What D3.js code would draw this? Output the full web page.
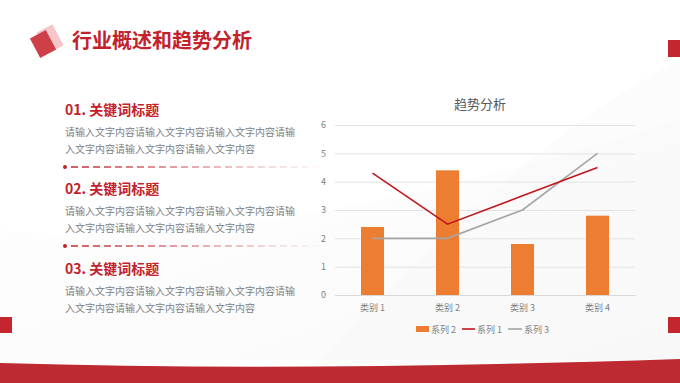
<!DOCTYPE html>
<html><head><meta charset="utf-8">
<script src="https://cdn.jsdelivr.net/npm/d3@7"></script>
<style>
html,body{margin:0;padding:0;background:#fff;}
svg{display:block;font-family:"Noto Sans CJK SC","Noto Sans",sans-serif;}
</style></head>
<body>
<svg id="c" width="680" height="383"></svg>
<script>
const categories = ["类别 1","类别 2","类别 3","类别 4"];
const series2 = [2.4, 4.4, 1.8, 2.8];
const series1 = [4.3, 2.5, 3.5, 4.5];
const series3 = [2, 2, 3, 5];
const yTicks = [0,1,2,3,4,5,6];
const legendItems = ["系列 2","系列 1","系列 3"];
const pageTitle = "行业概述和趋势分析";
const chartTitle = "趋势分析";
const headings = ["01. 关键词标题","02. 关键词标题","03. 关键词标题"];
const bodyLines = ["请输入文字内容请输入文字内容请输入文字内容请输","入文字内容请输入文字内容请输入文字内容"];

const RED = "#c3212b";
const svg = d3.select("#c");
const defs = svg.append("defs");

// background subtle swooshes
const bg = defs.append("linearGradient").attr("id","bgg").attr("x1","0").attr("y1","0").attr("x2","1").attr("y2","1");
bg.append("stop").attr("offset","0").attr("stop-color","#ffffff");
bg.append("stop").attr("offset","1").attr("stop-color","#f3f3f3");
svg.append("rect").attr("width",680).attr("height",383).attr("fill","#fff");
svg.append("path").attr("d","M0,230 C200,250 420,200 680,120 L680,360 L0,360 Z").attr("fill","url(#bgg)").attr("opacity",0.5);
svg.append("path").attr("d","M300,383 C420,250 560,120 680,60 L680,383 Z").attr("fill","#f7f7f7").attr("opacity",0.4);

// bottom band
svg.append("path").attr("d","M0,363 Q300,372 680,359 L680,383 L0,383 Z").attr("fill","#be2a31");

// side squares
svg.append("rect").attr("x",668).attr("y",40).attr("width",12).attr("height",17).attr("fill","#c3262f");
svg.append("rect").attr("x",668).attr("y",317).attr("width",12).attr("height",16).attr("fill","#c3262f");
svg.append("rect").attr("x",0).attr("y",317).attr("width",12).attr("height",16).attr("fill","#c3262f");

// title icon
svg.append("rect").attr("x",-9).attr("y",-12).attr("width",18).attr("height",24)
  .attr("fill","#f5c6ca").attr("transform","translate(50,39) rotate(-28)");
svg.append("rect").attr("x",-9).attr("y",-11).attr("width",18).attr("height",22)
  .attr("fill","#cf3f48").attr("transform","translate(43,44) rotate(-28)");

svg.append("text").attr("x",72).attr("y",48).text(pageTitle)
  .attr("font-size",20).attr("font-weight","bold").attr("fill",RED);

// left text blocks
const hy = [110,189,269];
hy.forEach((y,i)=>{
  svg.append("text").attr("x",65).attr("y",y+5).text(headings[i])
    .attr("font-size",14).attr("font-weight","bold").attr("fill",RED);
  bodyLines.forEach((l,j)=>{
    svg.append("text").attr("x",65).attr("y",y+26+j*17).text(l)
      .attr("font-size",10).attr("fill","#808080");
  });
});
const dg = defs.append("linearGradient").attr("id","dg").attr("gradientUnits","userSpaceOnUse")
  .attr("x1",65).attr("x2",320).attr("y1",0).attr("y2",0);
dg.append("stop").attr("offset","0").attr("stop-color",RED).attr("stop-opacity",1);
dg.append("stop").attr("offset","1").attr("stop-color",RED).attr("stop-opacity",0.03);
[167,246].forEach(y=>{
  svg.append("circle").attr("cx",65).attr("cy",y).attr("r",2).attr("fill",RED);
  svg.append("line").attr("x1",71).attr("x2",320).attr("y1",y).attr("y2",y)
    .attr("stroke","url(#dg)").attr("stroke-width",1.3).attr("stroke-dasharray","7,4");
});

// chart
const x = d3.scaleBand().domain(categories).range([335,635]);
const y = d3.scaleLinear().domain([0,6]).range([295,125]);
const g = svg.append("g");
g.append("text").attr("x",480).attr("y",109).attr("text-anchor","middle").text(chartTitle)
  .attr("font-size",13).attr("fill","#595959");

const ya = g.append("g").attr("transform","translate(335,0)")
  .call(d3.axisLeft(y).tickValues(yTicks).tickSize(-300).tickFormat(d3.format("d")));
ya.select(".domain").remove();
ya.selectAll(".tick line").attr("stroke","#e3e3e3").attr("stroke-width",1);
ya.selectAll(".tick text").attr("x",-9).attr("fill","#7f7f7f").attr("font-size",9)
  .attr("font-family","'Noto Sans CJK SC',sans-serif");

const xa = g.append("g").attr("transform","translate(0,295)")
  .call(d3.axisBottom(x).tickSize(0).tickPadding(10));
xa.select(".domain").attr("stroke","#d9d9d9");
xa.selectAll(".tick text").attr("fill","#7f7f7f").attr("font-size",9)
  .attr("font-family","'Noto Sans CJK SC',sans-serif");

const bw = 23;
g.selectAll("rect.bar").data(series2).join("rect").attr("class","bar")
  .attr("x",(d,i)=>x(categories[i])+x.bandwidth()/2-bw/2)
  .attr("width",bw).attr("y",d=>y(d)).attr("height",d=>y(0)-y(d)).attr("fill","#ed7d31");

const line = d3.line().x((d,i)=>x(categories[i])+x.bandwidth()/2).y(d=>y(d));
g.append("path").datum(series3).attr("d",line).attr("fill","none").attr("stroke","#a5a5a5").attr("stroke-width",1.6);
g.append("path").datum(series1).attr("d",line).attr("fill","none").attr("stroke","#c0161e").attr("stroke-width",1.6);

// legend
const lg = g.append("g");
lg.append("rect").attr("x",416).attr("y",326).attr("width",13).attr("height",6).attr("fill","#ed7d31");
lg.append("text").attr("x",431).attr("y",332.5).text(legendItems[0]).attr("font-size",9).attr("fill","#7f7f7f");
lg.append("line").attr("x1",462).attr("x2",475).attr("y1",329).attr("y2",329).attr("stroke","#c0161e").attr("stroke-width",1.6);
lg.append("text").attr("x",477).attr("y",332.5).text(legendItems[1]).attr("font-size",9).attr("fill","#7f7f7f");
lg.append("line").attr("x1",508).attr("x2",522).attr("y1",329).attr("y2",329).attr("stroke","#a5a5a5").attr("stroke-width",1.6);
lg.append("text").attr("x",524).attr("y",332.5).text(legendItems[2]).attr("font-size",9).attr("fill","#7f7f7f");
</script>
</body></html>
